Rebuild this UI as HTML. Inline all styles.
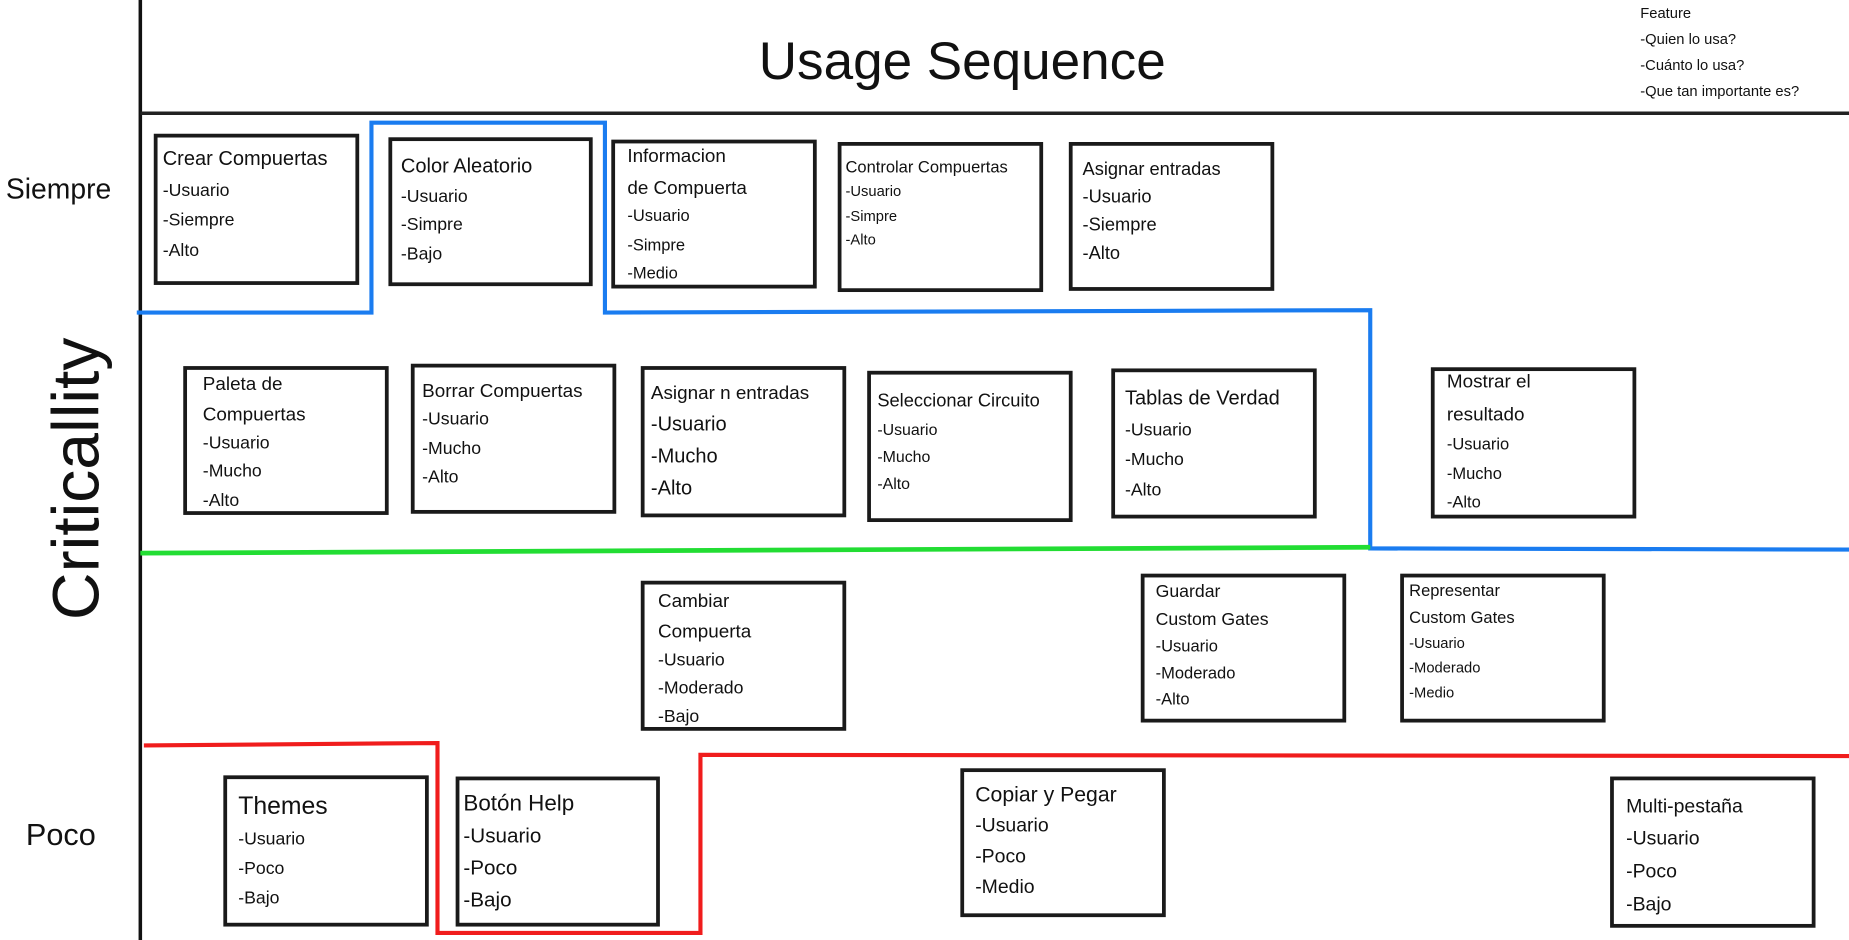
<!DOCTYPE html>
<html><head><meta charset="utf-8"><style>
html,body{margin:0;padding:0;background:#fff;}
svg{display:block}
text{font-family:"Liberation Sans",sans-serif;fill:#111;dominant-baseline:central}
rect{fill:#fff;stroke:#1a1a1a;stroke-width:3.2}
</style></head><body>
<svg width="1849" height="940" viewBox="0 0 1568 797" preserveAspectRatio="none" xmlns="http://www.w3.org/2000/svg">
<rect x="0" y="0" width="1568" height="797" style="stroke:none;fill:#fff"/>
<line x1="119" y1="0" x2="119" y2="797" stroke="#111" stroke-width="3"/>
<line x1="119" y1="96" x2="1568" y2="96" stroke="#222" stroke-width="3"/>
<text x="816" y="52" font-size="45" text-anchor="middle">Usage Sequence</text>
<text x="1391" y="12" font-size="12.5">Feature</text>
<text x="1391" y="34" font-size="12.5">-Quien lo usa?</text>
<text x="1391" y="56" font-size="12.5">-Cuánto lo usa?</text>
<text x="1391" y="78" font-size="12.5">-Que tan importante es?</text>
<text x="5" y="160" font-size="24">Siempre</text>
<text x="22" y="708" font-size="26">Poco</text>
<text transform="translate(64,406) rotate(-90)" font-size="56" text-anchor="middle">Criticallity</text>
<polyline points="116,265 315,265 315,104 513,104 513,265 1162,263 1162,465 1568,466" fill="none" stroke="#1a7cf0" stroke-width="3.5"/>
<line x1="119" y1="469" x2="1162" y2="464" stroke="#22dd33" stroke-width="4"/>
<polyline points="122,632 371,630 371,791 594,791 594,640 1568,641" fill="none" stroke="#f01c1c" stroke-width="3.5"/>

<rect x="132" y="115" width="171" height="125"/>
<text x="138" y="135" font-size="17">Crear Compuertas</text>
<text x="138" y="161" font-size="15">-Usuario</text>
<text x="138" y="186" font-size="15">-Siempre</text>
<text x="138" y="212" font-size="15">-Alto</text>

<rect x="331" y="118" width="170" height="123"/>
<text x="340" y="141" font-size="17">Color Aleatorio</text>
<text x="340" y="166" font-size="15">-Usuario</text>
<text x="340" y="190" font-size="15">-Simpre</text>
<text x="340" y="215" font-size="15">-Bajo</text>

<rect x="520" y="120" width="171" height="123"/>
<text x="532" y="132" font-size="16">Informacion</text>
<text x="532" y="159" font-size="16">de Compuerta</text>
<text x="532" y="183" font-size="14">-Usuario</text>
<text x="532" y="208" font-size="14">-Simpre</text>
<text x="532" y="232" font-size="14">-Medio</text>

<rect x="712" y="122" width="171" height="124"/>
<text x="717" y="142" font-size="14">Controlar Compuertas</text>
<text x="717" y="163" font-size="12.5">-Usuario</text>
<text x="717" y="184" font-size="12.5">-Simpre</text>
<text x="717" y="204" font-size="12.5">-Alto</text>

<rect x="908" y="122" width="171" height="123"/>
<text x="918" y="143" font-size="15.5">Asignar entradas</text>
<text x="918" y="166" font-size="15.5">-Usuario</text>
<text x="918" y="190" font-size="15.5">-Siempre</text>
<text x="918" y="214" font-size="15.5">-Alto</text>

<rect x="157" y="312" width="171" height="123"/>
<text x="172" y="325" font-size="16">Paleta de</text>
<text x="172" y="351" font-size="16">Compuertas</text>
<text x="172" y="375" font-size="15">-Usuario</text>
<text x="172" y="399" font-size="15">-Mucho</text>
<text x="172" y="424" font-size="15">-Alto</text>

<rect x="350" y="310" width="171" height="124"/>
<text x="358" y="331" font-size="16">Borrar Compuertas</text>
<text x="358" y="355" font-size="15">-Usuario</text>
<text x="358" y="380" font-size="15">-Mucho</text>
<text x="358" y="404" font-size="15">-Alto</text>

<rect x="545" y="312" width="171" height="125"/>
<text x="552" y="333" font-size="16">Asignar n entradas</text>
<text x="552" y="360" font-size="17">-Usuario</text>
<text x="552" y="387" font-size="17">-Mucho</text>
<text x="552" y="414" font-size="17">-Alto</text>

<rect x="737" y="316" width="171" height="125"/>
<text x="744" y="339" font-size="15.5">Seleccionar Circuito</text>
<text x="744" y="365" font-size="13.5">-Usuario</text>
<text x="744" y="388" font-size="13.5">-Mucho</text>
<text x="744" y="411" font-size="13.5">-Alto</text>

<rect x="944" y="314" width="171" height="124"/>
<text x="954" y="338" font-size="17">Tablas de Verdad</text>
<text x="954" y="364" font-size="15">-Usuario</text>
<text x="954" y="389" font-size="15">-Mucho</text>
<text x="954" y="415" font-size="15">-Alto</text>

<rect x="1215" y="313" width="171" height="125"/>
<text x="1227" y="323" font-size="16">Mostrar el</text>
<text x="1227" y="351" font-size="16">resultado</text>
<text x="1227" y="377" font-size="14">-Usuario</text>
<text x="1227" y="402" font-size="14">-Mucho</text>
<text x="1227" y="426" font-size="14">-Alto</text>

<rect x="545" y="494" width="171" height="124"/>
<text x="558" y="509" font-size="16">Cambiar</text>
<text x="558" y="535" font-size="16">Compuerta</text>
<text x="558" y="559" font-size="15">-Usuario</text>
<text x="558" y="583" font-size="15">-Moderado</text>
<text x="558" y="607" font-size="15">-Bajo</text>

<rect x="969" y="488" width="171" height="123"/>
<text x="980" y="501" font-size="15">Guardar</text>
<text x="980" y="525" font-size="15">Custom Gates</text>
<text x="980" y="548" font-size="14">-Usuario</text>
<text x="980" y="571" font-size="14">-Moderado</text>
<text x="980" y="593" font-size="14">-Alto</text>

<rect x="1189" y="488" width="171" height="123"/>
<text x="1195" y="501" font-size="14">Representar</text>
<text x="1195" y="524" font-size="14">Custom Gates</text>
<text x="1195" y="546" font-size="12.5">-Usuario</text>
<text x="1195" y="567" font-size="12.5">-Moderado</text>
<text x="1195" y="588" font-size="12.5">-Medio</text>

<rect x="191" y="659" width="171" height="125"/>
<text x="202" y="684" font-size="21">Themes</text>
<text x="202" y="711" font-size="15">-Usuario</text>
<text x="202" y="736" font-size="15">-Poco</text>
<text x="202" y="761" font-size="15">-Bajo</text>

<rect x="388" y="660" width="170" height="124"/>
<text x="393" y="681" font-size="19">Botón Help</text>
<text x="393" y="709" font-size="17.5">-Usuario</text>
<text x="393" y="736" font-size="17.5">-Poco</text>
<text x="393" y="763" font-size="17.5">-Bajo</text>

<rect x="816" y="653" width="171" height="123"/>
<text x="827" y="674" font-size="18">Copiar y Pegar</text>
<text x="827" y="700" font-size="16.5">-Usuario</text>
<text x="827" y="726" font-size="16.5">-Poco</text>
<text x="827" y="752" font-size="16.5">-Medio</text>

<rect x="1367" y="660" width="171" height="125"/>
<text x="1379" y="684" font-size="16.5">Multi-pestaña</text>
<text x="1379" y="711" font-size="16.5">-Usuario</text>
<text x="1379" y="739" font-size="16.5">-Poco</text>
<text x="1379" y="767" font-size="16.5">-Bajo</text>
</svg>
</body></html>
